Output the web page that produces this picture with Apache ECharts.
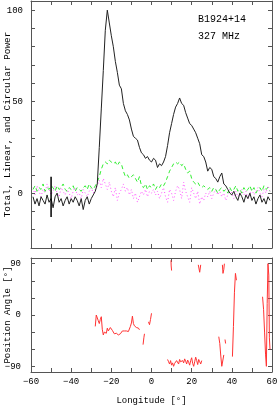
<!DOCTYPE html>
<html><head><meta charset="utf-8">
<script src="https://cdn.jsdelivr.net/npm/echarts@6/dist/echarts.min.js"></script>
<style>html,body{margin:0;padding:0;background:#fff}#c{width:278px;height:407px}</style>
</head><body><div id="c"></div>
<script>
// Longitude samples (deg)
const lon = [-59,-58,-57,-56,-55,-54,-53,-52,-51,-50,
 -49,-48,-47,-46,-45,-44,-43,-42,-41,-40,
 -39,-38,-37,-36,-35,-34,-33,-32,-31,-30,
 -29,-28,-27,-26,-25,-24,-23,-22,-21,-20,
 -19,-18,-17,-16,-15,-14,-13,-12,-11,-10,
 -9,-8,-7,-6,-5,-4,-3,-2,-1,0,
 1,2,3,4,5,6,7,8,9,10,
 11,12,13,14,15,16,17,18,19,20,
 21,22,23,24,25,26,27,28,29,30,
 31,32,33,34,35,36,37,38,39,40,
 41,42,43,44,45,46,47,48,49,50,
 51,52,53,54,55,56,57,58,59];
// Total intensity
const totalPower = [-2,-6,-3,-7,-2,-4,-6,-1,-5,-3,
 -8,-2,0,-5,-3,-7,-4,-2,-6,-3,
 -5,-2,-4,-7,-3,-9,-4,-2,-6,-3,
 -1,1,5,25,46,67,89,100,93,86,
 80,72,66,59,57,49,45,43,40,35,
 31,30,29,25,22,21,19,20,18,17,
 19,18,14,16,15,17,20,26,33,38,
 43,47,49,52,49,48,44,41,38,37,
 35,33,30,27,21,20,17,12,14,13,
 9,8,6,9,11,5,4,2,0,-1,
 1,-2,-4,0,-2,-5,-1,-3,0,-4,
 -2,-6,-3,-1,-5,-3,-6,-2,-4];
// Linear polarization
const linearPower = [2,4,1,3,2,5,1,3,2,4,
 3,1,4,2,3,5,2,1,3,2,
 4,1,3,2,1,3,4,2,5,3,
 2,4,6,9,13,16,17,16,18,17,
 16,17,15,17,16,12,9,10,8,9,
 10,8,6,9,4,3,5,2,4,3,
 5,2,4,3,5,4,6,9,12,14,
 16,17,16,17,15,16,13,11,12,8,
 6,5,6,4,3,4,3,2,3,1,
 3,2,0,2,3,1,2,0,3,1,
 2,4,1,2,0,3,1,2,4,1,
 3,0,2,3,1,4,2,3,1];
// Circular polarization
const circularPower = [3,-1,4,1,-2,2,0,5,2,-1,
 1,4,0,-2,3,1,-1,2,0,-3,
 1,3,-1,0,-3,2,0,-2,1,3,
 0,2,4,7,3,8,5,2,6,1,
 -2,3,-4,0,2,5,1,3,-1,2,
 -3,0,-5,-2,1,-1,2,-2,1,0,
 2,-1,1,-3,0,3,-2,-5,2,0,
 -4,1,4,2,-3,6,1,-2,-5,3,
 0,-3,1,-6,-2,-4,0,-2,1,-3,
 0,2,-1,1,-2,0,-4,-1,2,0,
 -3,1,-2,0,2,-1,1,-3,0,2,
 -1,1,3,0,-2,2,0,4,1];
// Off-pulse error bar
const errLon = [-50,-50];
const errVal = [-13,9];
// Position angle (null = gap)
const paLon = [-28,-27.5,-27,-26.5,-26,-25.5,-25,-24.5,-24,-23.5,-23,-22.5,-22,-21.5,-21,-20.5,-20,-19.5,-19,-18.5,-18,-17.5,-17,-16.5,-16,-15.5,-15,-14.5,-14,-13.5,-13,-12.5,-12,-11.5,-11,-10.5,-10,-9.5,-9,-8.5,-8,-7.5,-7,-6.5,-6,null,
 -4.2,-3.8,-3.5,null,
 -1.5,-1,-0.5,0,null,
 9.7,9.8,10,null,
 23.3,24,24.5,null,
 35.3,35.6,36,36.3,null,
 8,8.5,9,9.5,10,10.5,11,11.5,12,12.5,13,13.5,14,14.5,15,15.5,16,16.5,17,17.5,18,18.5,19,19.5,20,20.5,21,21.5,22,22.5,23,23.5,24,24.5,25,null,
 33.5,34,34.5,35,35.6,36,null,
 36.6,36.9,null,
 40.3,40.8,41.3,41.8,42.3,null,
 55.3,55.8,56.3,56.8,57.2,57.6,58,58.4,58.7,59];
const paAngle = [-20,0,-2,-10,-15,-8,-3,-25,-35,-30,-28,-32,-23,-28,-25,-22,-21,-27,-30,-33,-35,-32,-34,-35,-33,-33,-30,-28,-31,-28,-26,-28,-31,-29,-27,-20,-14,-2,-15,-19,-17,-22,-24,-23,-26,null,
 -52,-40,-33,null,
 -12,-17,-8,3,null,
 96,86,78,null,
 88,75,88,null,
 88,73,80,90,null,
 -78,-82,-86,-80,-88,-84,-90,-85,-87,-80,-83,-86,-78,-82,-85,-80,-84,-77,-81,-86,-79,-83,-88,-80,-75,-85,-90,-82,-74,-80,-87,-78,-82,-86,-80,null,
 -38,-50,-72,-90,-90,-70,null,
 -43,-50,null,
 -73,-20,40,73,61,null,
 32,10,-30,-70,-90,20,90,70,-40,-60];
// Tick labels
const topYLabels = [0,50,100];
const paTicks = [-90,-60,-30,0,30,60,90];
const paLabels = [-90,0,90];

const MONO = '"Liberation Mono", "DejaVu Sans Mono", monospace';
const frame = '#555';
const fmt = v => (v < 0 ? '\u2212' + (-v) : '' + v);

function xAx(grid, pos, labels) {
  return {
    gridIndex: grid, type: 'value', position: pos, min: -60, max: 60, interval: 10,
    axisLine: { show: true, onZero: false, lineStyle: { color: frame, width: 1 } },
    axisTick: { show: true, inside: true, length: 4, lineStyle: { color: frame } },
    axisLabel: { show: labels, margin: 5, fontFamily: MONO, fontSize: 9, color: '#000',
      formatter: v => (v % 20 === 0 ? fmt(v) : '') },
    splitLine: { show: false },
    name: labels ? 'Longitude [\u00b0]' : '', nameLocation: 'middle', nameGap: 24.5, nameMoveOverlap: false,
    nameTextStyle: { fontFamily: MONO, fontSize: 9, color: '#000' }
  };
}

const option = {
  animation: false,
  backgroundColor: '#fff',
  grid: [
    { left: 31, right: 6, top: 1, height: 247, containLabel: false, outerBoundsMode: 'none' },
    { left: 31, right: 6, top: 258, height: 114, containLabel: false, outerBoundsMode: 'none' }
  ],
  xAxis: [xAx(0, 'bottom', false), xAx(0, 'top', false), xAx(1, 'bottom', true), xAx(1, 'top', false)],
  yAxis: [
    { gridIndex: 0, type: 'value', position: 'left', min: -30, max: 105, interval: 10,
      axisLine: { show: true, onZero: false, lineStyle: { color: frame } },
      axisTick: { show: true, inside: true, length: 4, lineStyle: { color: frame } },
      axisLabel: { margin: 8, fontFamily: MONO, fontSize: 9, color: '#000',
        formatter: v => (topYLabels.indexOf(v) >= 0 ? fmt(v) : '') },
      splitLine: { show: false },
      name: 'Total, Linear, and Circular Power', nameLocation: 'middle', nameGap: 18.5, nameMoveOverlap: false,
      nameTextStyle: { fontFamily: MONO, fontSize: 9.4, color: '#000' } },
    { gridIndex: 0, type: 'value', position: 'right', min: -30, max: 105, interval: 10,
      axisLine: { show: true, onZero: false, lineStyle: { color: frame } },
      axisTick: { show: true, inside: true, length: 4, lineStyle: { color: frame } },
      axisLabel: { show: false }, splitLine: { show: false } },
    { gridIndex: 1, type: 'value', position: 'left', min: -100, max: 100,
      axisLine: { show: true, onZero: false, lineStyle: { color: frame } },
      axisTick: { show: true, inside: true, length: 4, customValues: paTicks, lineStyle: { color: frame } },
      axisLabel: { margin: 10, fontFamily: MONO, fontSize: 9, color: '#000', customValues: paLabels, formatter: v => fmt(v) },
      splitLine: { show: false },
      name: 'Position Angle [\u00b0]', nameLocation: 'middle', nameGap: 18.5, nameMoveOverlap: false,
      nameTextStyle: { fontFamily: MONO, fontSize: 9, color: '#000' } },
    { gridIndex: 1, type: 'value', position: 'right', min: -100, max: 100,
      axisLine: { show: true, onZero: false, lineStyle: { color: frame } },
      axisTick: { show: true, inside: true, length: 4, customValues: paTicks, lineStyle: { color: frame } },
      axisLabel: { show: false }, splitLine: { show: false } }
  ],
  graphic: [
    { type: 'text', left: 198, top: 14, style: { text: 'B1924+14', font: '10px ' + MONO, fill: '#000' } },
    { type: 'text', left: 198, top: 31, style: { text: '327 MHz', font: '10px ' + MONO, fill: '#000' } }
  ],
  series: [
    { type: 'line', xAxisIndex: 0, yAxisIndex: 0, showSymbol: false, silent: true,
      data: lon.map((x, i) => [x, circularPower[i]]),
      lineStyle: { color: '#ff55ff', width: 1, type: [1, 2.5] } },
    { type: 'line', xAxisIndex: 0, yAxisIndex: 0, showSymbol: false, silent: true,
      data: lon.map((x, i) => [x, linearPower[i]]),
      lineStyle: { color: '#33ee33', width: 1, type: [4, 3] } },
    { type: 'line', xAxisIndex: 0, yAxisIndex: 0, showSymbol: false, silent: true,
      data: lon.map((x, i) => [x, totalPower[i]]),
      lineStyle: { color: '#222', width: 1 } },
    { type: 'line', xAxisIndex: 0, yAxisIndex: 0, showSymbol: false, silent: true,
      data: errLon.map((x, i) => [x, errVal[i]]),
      lineStyle: { color: '#000', width: 1.5 } },
    { type: 'line', xAxisIndex: 2, yAxisIndex: 2, showSymbol: false, silent: true, connectNulls: false,
      data: paLon.map((x, i) => (x === null ? ['-', '-'] : [x, paAngle[i]])),
      lineStyle: { color: '#ff3333', width: 1 } }
  ]
};
const chart = echarts.init(document.getElementById('c'), null, { renderer: 'canvas' });
chart.setOption(option);
</script></body></html>
